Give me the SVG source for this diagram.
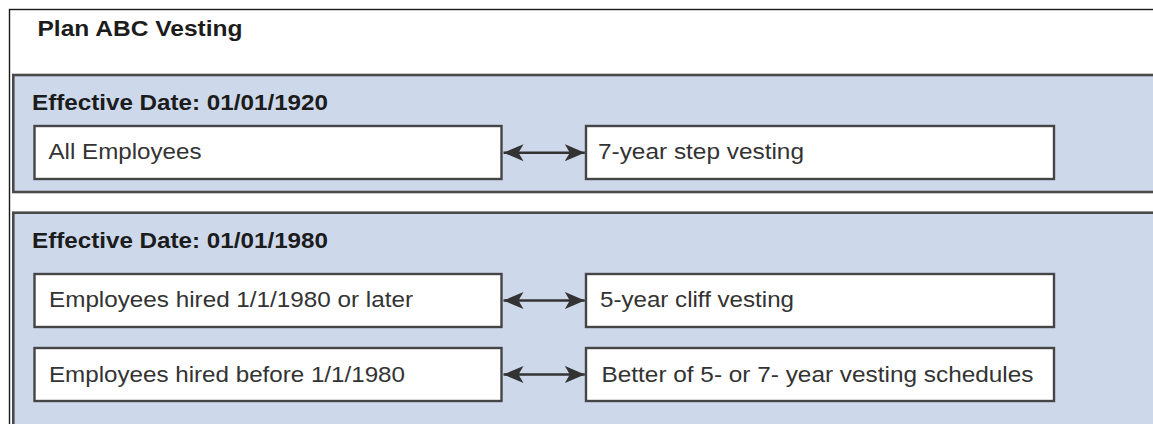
<svg xmlns="http://www.w3.org/2000/svg" width="1153" height="424" viewBox="0 0 1153 424">
<style>
.frame{fill:#ffffff;stroke:#1a1a1a;stroke-width:1.4}
.panel{fill:#cdd9eb;stroke:#4a4a4a;stroke-width:2.6}
.box{fill:#ffffff;stroke:#454545;stroke-width:2.4}
.title{font-family:"Liberation Sans",Arial,sans-serif;font-weight:bold;font-size:22px;fill:#1c1c1c}
.lbl{font-family:"Liberation Sans",Arial,sans-serif;font-size:22.5px;fill:#333333}
.conn{stroke:#333333;stroke-width:2.6;fill:none;marker-start:url(#ah);marker-end:url(#ah)}
</style>
<defs>
<marker id="ah" viewBox="0 0 20 17" refX="20" refY="8.5" markerWidth="20" markerHeight="17" markerUnits="userSpaceOnUse" orient="auto-start-reverse">
<path d="M0,0 L20,8.5 L0,17 L5,8.5 Z" fill="#333333"/>
</marker>
</defs>
<rect width="1153" height="424" fill="#ffffff"/>
<g id="frame">
<rect class="frame" x="9.5" y="9.5" width="1160" height="430"/>
<text class="title" x="37.5" y="36" textLength="205" lengthAdjust="spacingAndGlyphs">Plan ABC Vesting</text>
</g>
<g id="panel1">
<rect class="panel" x="13.3" y="75" width="1160" height="117"/>
<text class="title" x="32" y="110" textLength="296" lengthAdjust="spacingAndGlyphs">Effective Date: 01/01/1920</text>
</g>
<g id="panel2">
<rect class="panel" x="13.3" y="212.7" width="1160" height="230"/>
<text class="title" x="32" y="247.5" textLength="296" lengthAdjust="spacingAndGlyphs">Effective Date: 01/01/1980</text>
</g>
<g id="all-employees">
<rect class="box" x="34.5" y="126" width="467" height="53"/>
<text class="lbl" x="48.5" y="159" textLength="153" lengthAdjust="spacingAndGlyphs">All Employees</text>
</g>
<g id="step-vesting">
<rect class="box" x="586" y="126" width="468" height="53"/>
<text class="lbl" x="598" y="159" textLength="206" lengthAdjust="spacingAndGlyphs">7-year step vesting</text>
</g>
<g id="hired-later">
<rect class="box" x="34.5" y="274" width="467" height="53"/>
<text class="lbl" x="49" y="306.7" textLength="364" lengthAdjust="spacingAndGlyphs">Employees hired 1/1/1980 or later</text>
</g>
<g id="cliff-vesting">
<rect class="box" x="586" y="274" width="468" height="53"/>
<text class="lbl" x="600" y="306.7" textLength="194" lengthAdjust="spacingAndGlyphs">5-year cliff vesting</text>
</g>
<g id="hired-before">
<rect class="box" x="34.5" y="348" width="467" height="53"/>
<text class="lbl" x="49" y="381.5" textLength="356" lengthAdjust="spacingAndGlyphs">Employees hired before 1/1/1980</text>
</g>
<g id="better-of">
<rect class="box" x="586" y="348" width="468" height="53"/>
<text class="lbl" x="601.5" y="381.5" textLength="432" lengthAdjust="spacingAndGlyphs">Better of 5- or 7- year vesting schedules</text>
</g>
<g id="connectors">
<line class="conn" x1="503.5" y1="152.7" x2="584.8" y2="152.7"/>
<line class="conn" x1="503.5" y1="300.5" x2="584.8" y2="300.5"/>
<line class="conn" x1="503.5" y1="374.5" x2="584.8" y2="374.5"/>
</g>
</svg>
